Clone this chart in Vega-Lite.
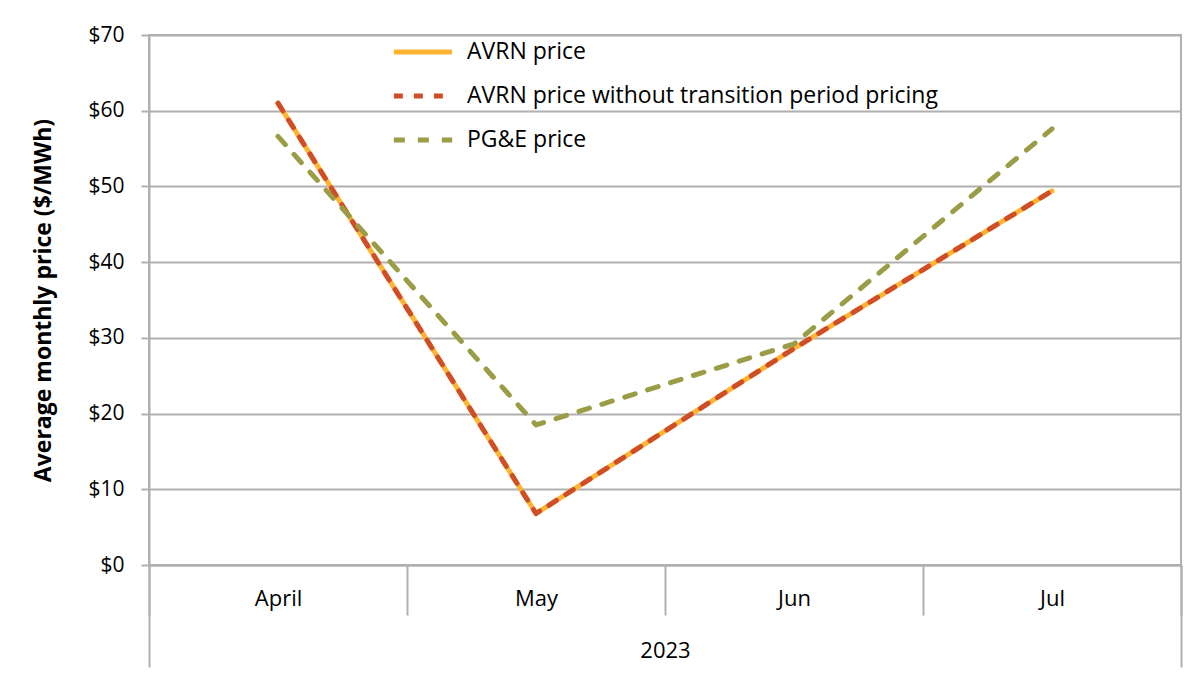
{
  "$schema": "https://vega.github.io/schema/vega-lite/v6.json",
  "width": 1032,
  "height": 530,
  "autosize": {"type": "none"},
  "padding": {"left": 149, "top": 35, "right": 17, "bottom": 108},
  "background": "white",
  "config": {
    "font": "Open Sans",
    "view": {"stroke": "#b0b0b0", "strokeWidth": 2},
    "axis": {"labelFont": "Open Sans", "titleFont": "Open Sans", "labelColor": "#000000", "titleColor": "#000000"},
    "legend": {"labelFont": "Open Sans"}
  },
  "datasets": {
    "prices": [
      {"month": "April", "series": "AVRN price", "price": 61.0},
      {"month": "May", "series": "AVRN price", "price": 6.8},
      {"month": "Jun", "series": "AVRN price", "price": 28.6},
      {"month": "Jul", "series": "AVRN price", "price": 49.4},
      {"month": "April", "series": "AVRN price without transition period pricing", "price": 61.0},
      {"month": "May", "series": "AVRN price without transition period pricing", "price": 6.8},
      {"month": "Jun", "series": "AVRN price without transition period pricing", "price": 28.6},
      {"month": "Jul", "series": "AVRN price without transition period pricing", "price": 49.4},
      {"month": "April", "series": "PG&E price", "price": 56.6},
      {"month": "May", "series": "PG&E price", "price": 18.5},
      {"month": "Jun", "series": "PG&E price", "price": 29.2},
      {"month": "Jul", "series": "PG&E price", "price": 57.6}
    ],
    "years": [{"year": "2023"}]
  },
  "layer": [
    {
      "data": {"name": "prices"},
      "mark": {"type": "line", "strokeWidth": 5, "strokeCap": "round", "strokeJoin": "round"},
      "encoding": {
        "x": {
          "field": "month",
          "type": "ordinal",
          "bandPosition": 0.5,
          "sort": ["April", "May", "Jun", "Jul"],
          "scale": {"type": "band", "paddingInner": 0, "paddingOuter": 0},
          "axis": {
            "orient": "bottom",
            "title": null,
            "tickBand": "extent",
            "tickSize": 50,
            "tickColor": "#b0b0b0",
            "tickWidth": 2,
            "domainColor": "#b0b0b0",
            "domainWidth": 2,
            "labelFontSize": 22,
            "labelPadding": -27,
            "labelAngle": 0,
            "grid": false
          }
        },
        "y": {
          "field": "price",
          "type": "quantitative",
          "scale": {"domain": [0, 70], "nice": false},
          "axis": {
            "title": "Average monthly price ($/MWh)",
            "titleFontSize": 23,
            "titleFontWeight": "bold",
            "titlePadding": 32,
            "values": [0, 10, 20, 30, 40, 50, 60, 70],
            "format": "$,.0f",
            "labelFontSize": 21,
            "labelPadding": 17,
            "tickSize": 8,
            "tickColor": "#b0b0b0",
            "tickWidth": 2,
            "domainColor": "#b0b0b0",
            "domainWidth": 2,
            "gridColor": "#b0b0b0",
            "gridWidth": 2
          }
        },
        "color": {
          "field": "series",
          "type": "nominal",
          "scale": {
            "domain": ["AVRN price", "AVRN price without transition period pricing", "PG&E price"],
            "range": ["#FFB533", "#CF4E27", "#9B9C46"]
          },
          "legend": {
            "title": null,
            "orient": "none",
            "legendX": 242,
            "legendY": -15,
            "columns": 1,
            "symbolType": "stroke",
            "symbolSize": 3400,
            "symbolStrokeWidth": 5,
            "labelFontSize": 23,
            "labelColor": "#000000",
            "labelOffset": 12,
            "rowPadding": 0,
            "labelLimit": 700
          }
        },
        "strokeDash": {
          "field": "series",
          "type": "nominal",
          "scale": {
            "domain": ["AVRN price", "AVRN price without transition period pricing", "PG&E price"],
            "range": [[1, 0], [9, 11], [11, 13]]
          },
          "legend": null
        }
      }
    },
    {
      "data": {"name": "years"},
      "mark": {"type": "tick", "opacity": 0},
      "encoding": {
        "x": {
          "field": "year",
          "type": "ordinal",
          "scale": {"type": "band", "paddingInner": 0, "paddingOuter": 0},
          "axis": {
            "orient": "bottom",
            "title": null,
            "tickBand": "extent",
            "tickSize": 102,
            "tickColor": "#b0b0b0",
            "tickWidth": 2,
            "domain": false,
            "labelFontSize": 22,
            "labelPadding": -27,
            "labelAngle": 0,
            "grid": false
          }
        }
      }
    }
  ],
  "resolve": {"scale": {"x": "independent"}, "axis": {"x": "independent"}}
}
